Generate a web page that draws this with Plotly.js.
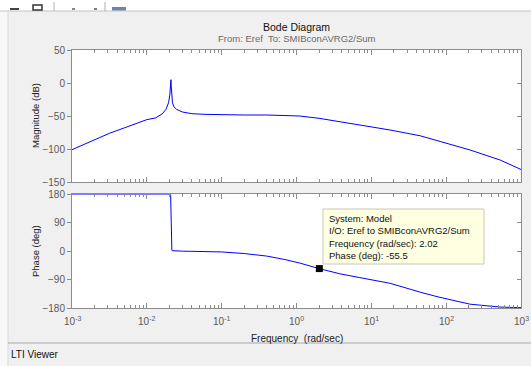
<!DOCTYPE html>
<html>
<head>
<meta charset="utf-8">
<script src="https://cdn.plot.ly/plotly-3.0.1.min.js"></script>
<style>html,body{margin:0;padding:0;background:#f0f0f0;}#chart{width:531px;height:366px;}</style>
</head>
<body>
<div id="chart"></div>
<script>
// ---- data ----
var freq = [0.001, 0.0015, 0.002, 0.0032, 0.005, 0.0075, 0.01, 0.013, 0.016, 0.018, 0.0195, 0.0203, 0.0208, 0.021, 0.0212, 0.0216, 0.022, 0.023, 0.025, 0.03, 0.04, 0.06, 0.1, 0.2, 0.4, 0.7, 1.1, 2, 3.8, 7, 17.8, 45, 78, 209, 526, 1000];
var magDb = [-101, -92, -86, -76, -68, -60, -55.5, -53, -47, -40, -30, -18, -3, 5, -5, -22, -30, -36, -40, -44, -46.5, -47.5, -48.3, -48.5, -48.5, -49, -50, -53.5, -58.6, -64, -71.2, -80, -88, -101.5, -116.7, -131];
var phaseDeg = [180, 180, 180, 180, 180, 180, 180, 180, 180, 180, 180, 180, 175, 90, 10, 2, 1, 0.5, 0, -0.5, -1, -1.5, -3, -8, -16, -27, -38, -55.5, -72, -84, -102, -130, -145, -168, -177, -179];
var tipFreq = [2.02];
var tipPhase = [-55.5];
var xTickVals = [0.001, 0.01, 0.1, 1, 10, 100, 1000];
var xTickText = ['10<sup>-3</sup>', '10<sup>-2</sup>', '10<sup>-1</sup>', '10<sup>0</sup>', '10<sup>1</sup>', '10<sup>2</sup>', '10<sup>3</sup>'];
var minorDigits = [2, 3, 4, 5, 6, 7, 8, 9];
var magTicks = [-150, -100, -50, 0, 50];
var phaseTicks = [-180, -90, 0, 90, 180];
var tipText = ['System: Model', 'I/O: Eref to SMIBconAVRG2/Sum', 'Frequency (rad/sec): 2.02', 'Phase (deg): -55.5'];

// minor tick positions (2..9 within each decade)
var minorVals = [];
xTickVals.slice(0, -1).forEach(function (d) { minorDigits.forEach(function (m) { minorVals.push(d * m); }); });

// ---- pixel -> paper helpers (layout only) ----
var L = 72, R = 10, T = 50, B = 58, W = 531, H = 366;
var PW = W - L - R, PH = H - T - B;
function X(px) { return (px - L) / PW; }
function Y(py) { return (H - B - py) / PH; }

var blue = '#0000ff';
var axisCol = '#8c8c8c';
var labelCol = '#5a5a5a';
var fnt = 'Liberation Sans, Arial, sans-serif';

var traces = [
  {x: freq, y: magDb, xaxis: 'x', yaxis: 'y', mode: 'lines', line: {color: blue, width: 1}, hoverinfo: 'skip'},
  {x: freq, y: phaseDeg, xaxis: 'x2', yaxis: 'y2', mode: 'lines', line: {color: blue, width: 1}, hoverinfo: 'skip'},
  {x: freq, y: magDb, xaxis: 'x', yaxis: 'y3', mode: 'lines', line: {color: 'rgba(0,0,0,0)', width: 0}, hoverinfo: 'skip'},
  {x: freq, y: phaseDeg, xaxis: 'x2', yaxis: 'y4', mode: 'lines', line: {color: 'rgba(0,0,0,0)', width: 0}, hoverinfo: 'skip'},
  {x: tipFreq, y: tipPhase, xaxis: 'x2', yaxis: 'y2', mode: 'markers', marker: {symbol: 'square', size: 7, color: '#000'}, hoverinfo: 'skip'}
];

var topDom = [Y(182), 1];
var botDom = [0, Y(194)];

function xax(anchor) {
  return {
    type: 'log', range: [-3, 3], anchor: anchor, domain: [0, 1],
    showline: true, linecolor: axisCol, linewidth: 1, mirror: 'ticks',
    ticks: 'inside', ticklen: 5, tickcolor: axisCol,
    tickmode: 'array', tickvals: xTickVals, ticktext: xTickText,
    showticklabels: false,
    minor: {tickmode: 'array', tickvals: minorVals, ticks: 'inside', ticklen: 3, tickcolor: axisCol, showgrid: false},
    showgrid: false, zeroline: false
  };
}
function yax(anchor, dom, rng, tv) {
  return {
    anchor: anchor, domain: dom, range: rng, tickmode: 'array', tickvals: tv,
    showline: true, linecolor: axisCol, linewidth: 1, mirror: true,
    ticks: 'outside', ticklen: 4, tickcolor: axisCol,
    tickfont: {size: 10, color: labelCol, family: fnt},
    showgrid: false, zeroline: false
  };
}
function yov(base, anchor, rng, tv) {
  return {
    overlaying: base, side: 'right', anchor: anchor, range: rng, tickmode: 'array', tickvals: tv,
    showline: false, ticks: 'inside', ticklen: 4, tickcolor: axisCol, showticklabels: false,
    showgrid: false, zeroline: false
  };
}

var shapes = [
  // top toolbar strip
  {type: 'rect', xref: 'paper', yref: 'paper', x0: X(0), x1: X(531), y0: Y(11), y1: Y(0), fillcolor: '#ffffff', line: {width: 0}, layer: 'below'},
  {type: 'line', xref: 'paper', yref: 'paper', x0: X(0), x1: X(531), y0: Y(11), y1: Y(11), line: {color: '#c4c4c4', width: 1}},
  {type: 'rect', xref: 'paper', yref: 'paper', x0: X(10), x1: X(19), y0: Y(10), y1: Y(8), fillcolor: '#444', line: {width: 0}},
  {type: 'rect', xref: 'paper', yref: 'paper', x0: X(33), x1: X(42), y0: Y(10), y1: Y(5), fillcolor: 'rgba(0,0,0,0)', line: {color: '#333', width: 1.5}},
  {type: 'line', xref: 'paper', yref: 'paper', x0: X(54), x1: X(54), y0: Y(11), y1: Y(2), line: {color: '#b0b0b0', width: 1}},
  {type: 'rect', xref: 'paper', yref: 'paper', x0: X(72), x1: X(75), y0: Y(10), y1: Y(8), fillcolor: '#888', line: {width: 0}},
  {type: 'rect', xref: 'paper', yref: 'paper', x0: X(94), x1: X(97), y0: Y(10), y1: Y(8), fillcolor: '#997766', line: {width: 0}},
  {type: 'line', xref: 'paper', yref: 'paper', x0: X(105), x1: X(105), y0: Y(11), y1: Y(2), line: {color: '#b0b0b0', width: 1}},
  {type: 'rect', xref: 'paper', yref: 'paper', x0: X(112), x1: X(126), y0: Y(10.5), y1: Y(7), fillcolor: '#6c86a8', line: {width: 0}},
  // left light strip
  {type: 'rect', xref: 'paper', yref: 'paper', x0: X(0), x1: X(8), y0: Y(366), y1: Y(11), fillcolor: '#f8f8f8', line: {width: 0}, layer: 'below'},
  {type: 'line', xref: 'paper', yref: 'paper', x0: X(8), x1: X(8), y0: Y(366), y1: Y(11), line: {color: '#d8d8d8', width: 1}},
  // status bar separator
  {type: 'line', xref: 'paper', yref: 'paper', x0: X(8), x1: X(531), y0: Y(343), y1: Y(343), line: {color: '#a8a8a8', width: 1}},
  // data tip box
  {type: 'rect', xref: 'paper', yref: 'paper', x0: X(323), x1: X(484), y0: Y(264), y1: Y(209), fillcolor: '#ffffe1', line: {color: '#c8c8b4', width: 1}}
];

var annotations = [
  {text: 'Bode Diagram', xref: 'paper', yref: 'paper', x: X(296.5), y: Y(27), showarrow: false, xanchor: 'center', yanchor: 'middle', font: {size: 10.5, color: '#111', family: fnt}},
  {text: 'From: Eref\u00a0 To: SMIBconAVRG2/Sum', xref: 'paper', yref: 'paper', x: X(296.5), y: Y(39), showarrow: false, xanchor: 'center', yanchor: 'middle', font: {size: 9.5, color: '#6a6a6a', family: fnt}},
  {text: 'Magnitude (dB)', xref: 'paper', yref: 'paper', x: X(35), y: Y(116), textangle: -90, showarrow: false, xanchor: 'center', yanchor: 'middle', font: {size: 9.5, color: '#222', family: fnt}},
  {text: 'Phase (deg)', xref: 'paper', yref: 'paper', x: X(35), y: Y(251), textangle: -90, showarrow: false, xanchor: 'center', yanchor: 'middle', font: {size: 9.5, color: '#222', family: fnt}},
  {text: 'Frequency\u00a0 (rad/sec)', xref: 'paper', yref: 'paper', x: X(296.5), y: Y(338), showarrow: false, xanchor: 'center', yanchor: 'middle', font: {size: 10, color: '#222', family: fnt}},
  {text: 'LTI Viewer', xref: 'paper', yref: 'paper', x: X(9), y: Y(355), showarrow: false, xanchor: 'left', yanchor: 'middle', font: {size: 10, color: '#111', family: fnt}},
  {text: tipText.join('<br>'), xref: 'paper', yref: 'paper', x: X(327), y: Y(236.5), showarrow: false, xanchor: 'left', yanchor: 'middle', align: 'left', font: {size: 9.5, color: '#111', family: fnt}}
];
// x tick labels placed through the x2 axis scale
xTickVals.forEach(function (v, i) {
  annotations.push({text: xTickText[i], xref: 'x2', yref: 'paper', x: Math.log10(v), y: Y(320.5), showarrow: false,
    xanchor: 'center', yanchor: 'middle', font: {size: 10, color: labelCol, family: fnt}});
});

var layout = {
  width: W, height: H,
  margin: {l: L, r: R, t: T, b: B, pad: 0},
  paper_bgcolor: '#f0f0f0', plot_bgcolor: '#ffffff',
  showlegend: false,
  font: {family: fnt},
  xaxis: xax('y'),
  xaxis2: xax('y2'),
  yaxis: yax('x', topDom, [-150, 50], magTicks),
  yaxis2: yax('x2', botDom, [-180, 180], phaseTicks),
  yaxis3: yov('y', 'x', [-150, 50], magTicks),
  yaxis4: yov('y2', 'x2', [-180, 180], phaseTicks),
  shapes: shapes,
  annotations: annotations
};

Plotly.newPlot('chart', traces, layout, {staticPlot: true, displayModeBar: false});
</script>
</body>
</html>
